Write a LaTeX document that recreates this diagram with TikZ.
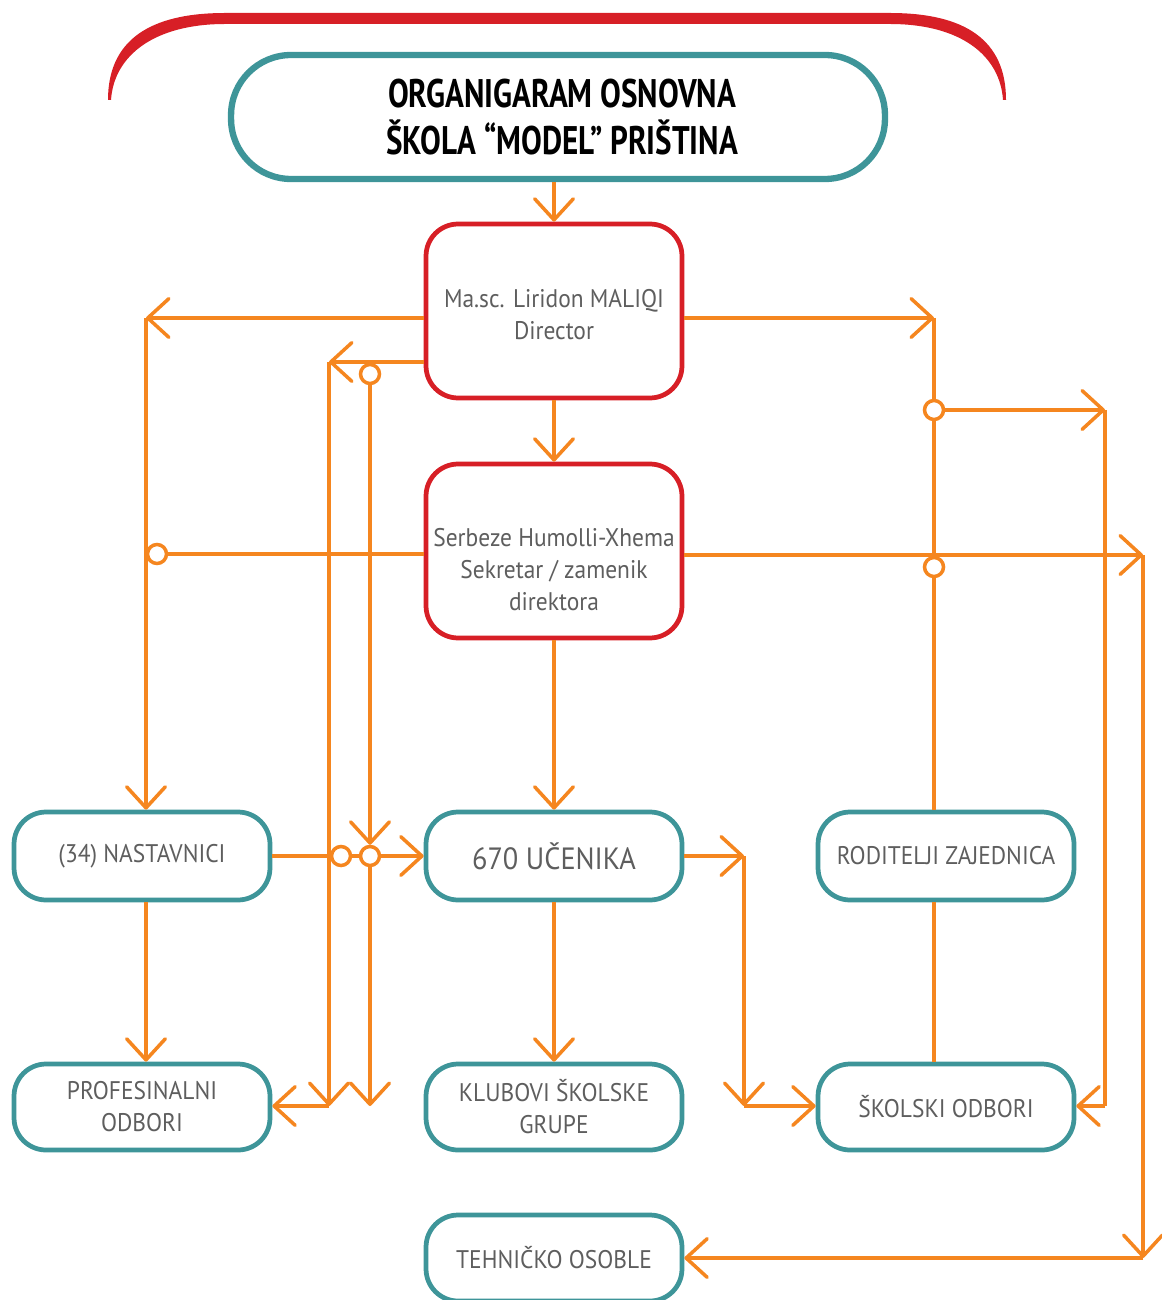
\documentclass[tikz,border=0pt]{standalone}
\usepackage{fontspec}
\setmainfont{PT Sans}
\newfontfamily\titlefont[FakeStretch=0.78]{PT Sans}
\newfontfamily\boxfont[FakeStretch=0.92]{PT Sans}
\usetikzlibrary{arrows.meta, calc}
\definecolor{orng}{HTML}{F5861F}
\definecolor{tealb}{HTML}{3E9599}
\definecolor{redb}{HTML}{D71F26}
\definecolor{txtgray}{HTML}{5E5E5E}

\begin{document}
\begin{tikzpicture}[x=0.02cm, y=-0.02cm, > = {Straight Barb[length=12pt,width=22pt,round]},
    box/.style={draw=tealb, line width=2.7pt, rounded corners=0.64cm, minimum width=5.12cm, minimum height=1.76cm, align=center, text=txtgray, fill=white, font=\boxfont\fontsize{14.5}{18.2}\selectfont},
    redbox/.style={box, draw=redb, minimum height=3.48cm},
    boxtext/.style={align=center, text=txtgray, font=\boxfont\fontsize{14.5}{18.2}\selectfont},
    link/.style={draw=orng, line width=2pt},
    dot/.style={circle, draw=orng, line width=2pt, fill=white, inner sep=0pt, minimum size=0.38cm}]
    \useasboundingbox (0,0) rectangle (1161,1300);
    \fill[redb] (108,100) .. controls (108,40) and (150,13) .. (225,13) -- (890,13) .. controls (965,13) and (1006,40) .. (1006,100) -- (1003,100) .. controls (1000,55) and (960,24) .. (890,24) -- (225,24) .. controls (155,24) and (114,55) .. (111,100) -- cycle;
    \node[draw=tealb, line width=3.6pt, rounded corners=1.2cm, minimum width=13.08cm, minimum height=2.48cm] (title) at (558,117) {};
    \node[align=center, font=\titlefont\bfseries\fontsize{22.7}{27.2}\selectfont] at (562,117) {ORGANIGARAM OSNOVNA\\ŠKOLA “MODEL” PRIŠTINA};
    \node[redbox] (direktor) at (554,311) {};
    \node[boxtext] at (554,315) {Ma.sc. Liridon MALIQI\\Director};
    \node[redbox] (sekretar) at (554,551) {};
    \node[boxtext] at (554,570) {Serbeze Humolli-Xhema\\Sekretar / zamenik\\direktora};
    \node[box] (nastavnici) at (142,856) {(34) NASTAVNICI};
    \node[box, font=\boxfont\fontsize{17.5}{21}\selectfont] (ucenici) at (554,856) {670 UČENIKA};
    \node[box] (roditelji) at (946,856) {RODITELJI ZAJEDNICA};
    \node[box, minimum height=1.72cm] (profodbori) at (142,1107) {PROFESINALNI\\ODBORI};
    \node[box, minimum height=1.72cm] (klubovi) at (554,1107) {KLUBOVI ŠKOLSKE\\GRUPE};
    \node[box, minimum height=1.72cm] (skodbori) at (946,1107) {ŠKOLSKI ODBORI};
    \node[box, minimum height=1.72cm] (tehnicko) at (554,1258) {TEHNIČKO OSOBLE};
    \node[dot] (c1) at (370,374) {};
    \node[dot] (c2) at (341,856) {};
    \node[dot] (c3) at (370,856) {};
    \node[dot] (c4) at (157,554) {};
    \node[dot] (c5) at (934,410) {};
    \node[dot] (c6) at (934,567) {};
    \coordinate (nl) at (146,318);
    \coordinate (ml) at (329,362);
    \coordinate (nr) at (934,318);
    \coordinate (rr) at (1105,410);
    \coordinate (sr) at (1143,555);
    \coordinate (ur) at (744,856);
    \coordinate (bot) at (0,1106);
    \draw[link,->] (direktor.north |- title.south) -- (direktor.north);
    \draw[link,->] (direktor.south) -- (sekretar.north);
    \draw[link,->] (sekretar.south) -- (ucenici.north);
    \draw[link,->] (ucenici.south) -- (klubovi.north);
    \draw[link,->] (direktor.west |- nl) -- (nl);
    \draw[link,->] (nl) -- (nl |- nastavnici.north);
    \draw[link,->] (nastavnici.south -| nl) -- (profodbori.north -| nl);
    \draw[link,->] (direktor.west |- ml) -- (ml);
    \draw[link,->] (ml) -- (ml |- bot);
    \draw[link,->] (ml |- bot) -- (profodbori.east |- bot);
    \draw[link,->] (c1.south) -- (c3.north);
    \draw[link,->] (c3.south) -- (c3 |- bot);
    \draw[link] (nastavnici.east) -- (c2.west);
    \draw[link] (c2.east) -- (c3.west);
    \draw[link,->] (c3.east) -- (ucenici.west);
    \draw[link] (sekretar.west |- c4) -- (c4.east);
    \draw[link,->] (direktor.east |- nr) -- (nr);
    \draw[link] (nr) -- (c5.north);
    \draw[link] (c5.south) -- (c6.north);
    \draw[link] (c6.south) -- (roditelji.north -| nr);
    \draw[link] (roditelji.south -| nr) -- (skodbori.north -| nr);
    \draw[link,->] (c5.east) -- (rr);
    \draw[link] (rr) -- (rr |- bot);
    \draw[link,->] (rr |- bot) -- (skodbori.east |- bot);
    \draw[link,->] (sekretar.east |- sr) -- (sr);
    \draw[link,->] (sr) -- (sr |- tehnicko);
    \draw[link,->] (sr |- tehnicko) -- (tehnicko.east);
    \draw[link,->] (ucenici.east) -- (ur);
    \draw[link,->] (ur) -- (ur |- bot);
    \draw[link,->] (ur |- bot) -- (skodbori.west |- bot);
\end{tikzpicture}
\end{document}
